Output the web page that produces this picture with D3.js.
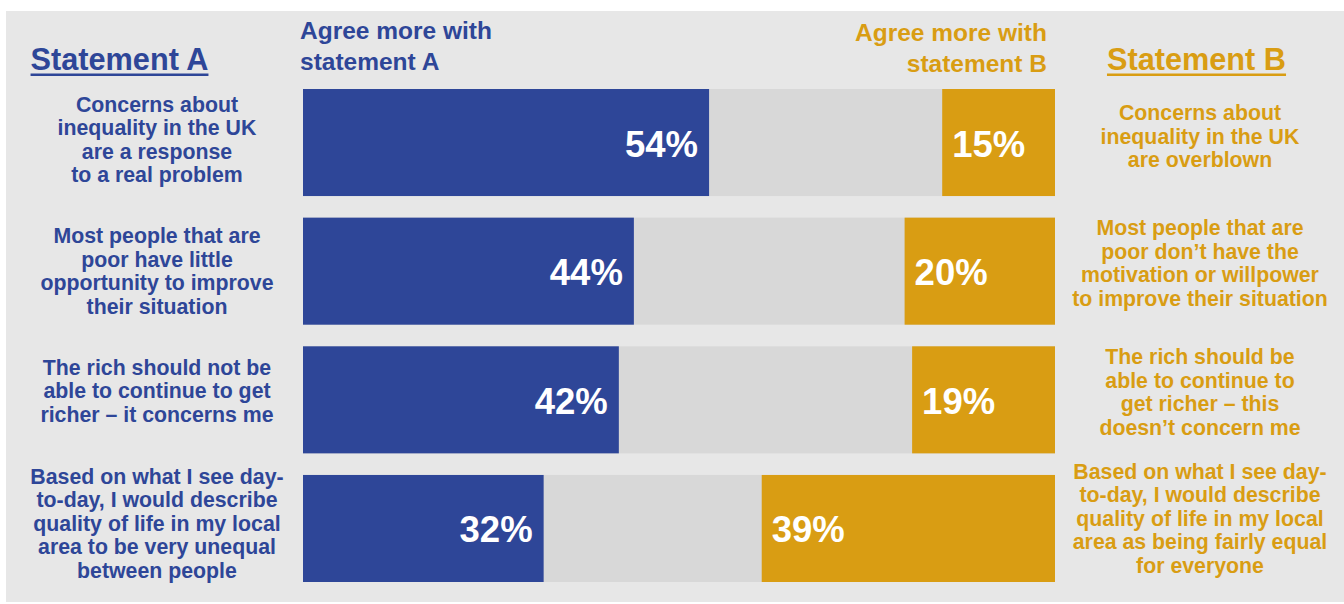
<!DOCTYPE html>
<html>
<head>
<meta charset="utf-8">
<script src="https://cdn.jsdelivr.net/npm/d3@7"></script>
<style>
  html, body { margin: 0; padding: 0; background: #ffffff; }
  svg { display: block; }
  text { font-family: "Liberation Sans", Arial, sans-serif; font-weight: bold; }
</style>
</head>
<body>
<svg id="chart" width="1344" height="604"></svg>
<script>
// Survey statements (one entry per row, split into display lines)
const statementA = [
  ["Concerns about", "inequality in the UK", "are a response", "to a real problem"],
  ["Most people that are", "poor have little", "opportunity to improve", "their situation"],
  ["The rich should not be", "able to continue to get", "richer \u2013 it concerns me"],
  ["Based on what I see day-", "to-day, I would describe", "quality of life in my local", "area to be very unequal", "between people"]
];
const statementB = [
  ["Concerns about", "inequality in the UK", "are overblown"],
  ["Most people that are", "poor don\u2019t have the", "motivation or willpower", "to improve their situation"],
  ["The rich should be", "able to continue to", "get richer \u2013 this", "doesn\u2019t concern me"],
  ["Based on what I see day-", "to-day, I would describe", "quality of life in my local", "area as being fairly equal", "for everyone"]
];
// Share agreeing more with each statement (%)
const agreeA = [54, 44, 42, 32];
const agreeB = [15, 20, 19, 39];

const headerA = "Statement A";
const headerB = "Statement B";
const legendA = ["Agree more with", "statement A"];
const legendB = ["Agree more with", "statement B"];

const BLUE = "#2e4698";
const GOLD = "#d99d13";
const MID = "#d8d8d8";
const PANEL = "#e7e7e7";

const svg = d3.select("#chart");
const W = 1344;

// Panel background
svg.append("rect")
  .attr("x", 6).attr("y", 11)
  .attr("width", W - 6).attr("height", 591)
  .attr("fill", PANEL);

const rows = d3.range(agreeA.length);
const x = d3.scaleLinear().domain([0, 100]).range([303, 1055]);
const y = d3.scaleBand().domain(rows).range([89, 582]).paddingInner(0.168).paddingOuter(0);

const g = svg.append("g");

// Full-width neutral track
g.selectAll("rect.track").data(rows).join("rect")
  .attr("class", "track")
  .attr("x", x(0)).attr("width", x(100) - x(0))
  .attr("y", i => y(i)).attr("height", y.bandwidth())
  .attr("fill", MID);

// Statement A share, growing from the left
g.selectAll("rect.a").data(rows).join("rect")
  .attr("class", "a")
  .attr("x", x(0)).attr("width", i => x(agreeA[i]) - x(0))
  .attr("y", i => y(i)).attr("height", y.bandwidth())
  .attr("fill", BLUE);

// Statement B share, growing from the right
g.selectAll("rect.b").data(rows).join("rect")
  .attr("class", "b")
  .attr("x", i => x(100 - agreeB[i])).attr("width", i => x(100) - x(100 - agreeB[i]))
  .attr("y", i => y(i)).attr("height", y.bandwidth())
  .attr("fill", GOLD);

// Value labels
const mid = i => y(i) + y.bandwidth() / 2;
g.selectAll("text.va").data(rows).join("text")
  .attr("class", "va")
  .attr("x", i => x(agreeA[i]) - 11)
  .attr("y", i => mid(i) + 14)
  .attr("text-anchor", "end")
  .attr("font-size", 36.5)
  .attr("fill", "#ffffff")
  .text(i => agreeA[i] + "%");

g.selectAll("text.vb").data(rows).join("text")
  .attr("class", "vb")
  .attr("x", i => x(100 - agreeB[i]) + 10)
  .attr("y", i => mid(i) + 14)
  .attr("text-anchor", "start")
  .attr("font-size", 36.5)
  .attr("fill", "#ffffff")
  .text(i => agreeB[i] + "%");

// Multi-line statement text beside each bar
const LH = 23.5, FS = 21.3;
const nudgeA = [0, 3, -6, -2];
const nudgeB = [1, -1, -1, -3];
function statementBlock(lines, cx, cy, color) {
  const t = svg.append("text")
    .attr("text-anchor", "middle")
    .attr("font-size", FS)
    .attr("fill", color);
  const n = lines.length;
  lines.forEach((ln, k) => {
    t.append("tspan")
      .attr("x", cx)
      .attr("y", cy + (k - (n - 1) / 2) * LH + FS * 0.35)
      .text(ln);
  });
}
rows.forEach(i => {
  statementBlock(statementA[i], 157, mid(i) - 3 + nudgeA[i], BLUE);
  statementBlock(statementB[i], 1200, mid(i) - 7 + nudgeB[i], GOLD);
});

// Column headers (underlined)
function header(label, cx, color) {
  const t = svg.append("text")
    .attr("x", cx).attr("y", 70)
    .attr("text-anchor", "middle")
    .attr("font-size", 30.7)
    .attr("fill", color)
    .text(label);
  const bb = t.node().getBBox();
  svg.append("rect")
    .attr("x", bb.x).attr("y", 73.5)
    .attr("width", bb.width).attr("height", 2.5)
    .attr("fill", color);
}
header(headerA, 119.5, BLUE);
header(headerB, 1196.5, GOLD);

// Direction captions above the bars
const capA = svg.append("text").attr("font-size", 24.5).attr("fill", BLUE);
legendA.forEach((ln, k) => capA.append("tspan").attr("x", 300).attr("y", 39 + k * 31).text(ln));
const capB = svg.append("text").attr("font-size", 24.5).attr("fill", GOLD).attr("text-anchor", "end");
legendB.forEach((ln, k) => capB.append("tspan").attr("x", 1047).attr("y", 41 + k * 31).text(ln));
</script>
</body>
</html>
